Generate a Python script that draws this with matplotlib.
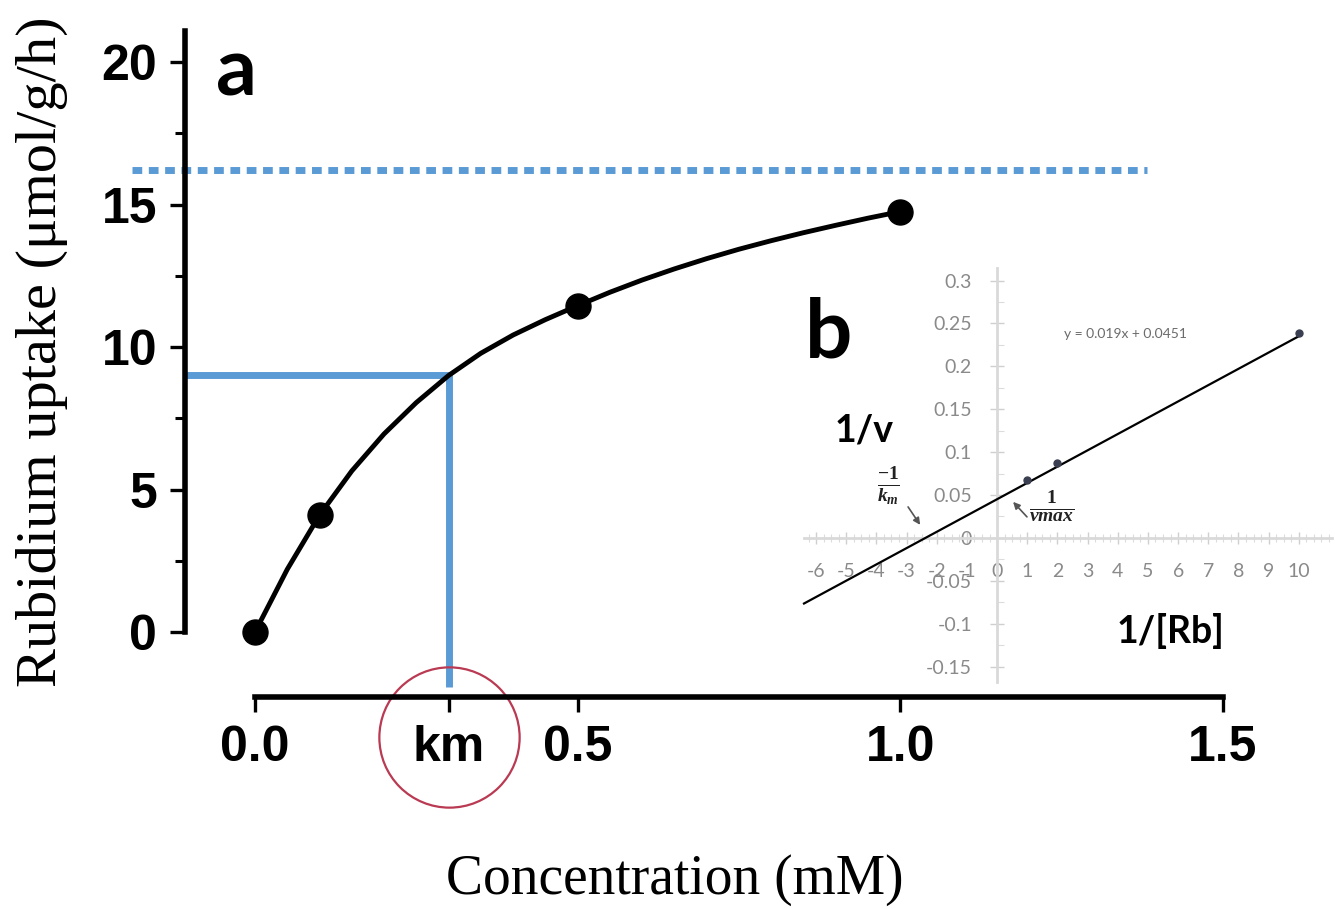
import matplotlib
matplotlib.use("Agg")
import matplotlib.pyplot as plt
from matplotlib.ticker import MultipleLocator

# panel a: rubidium uptake vs concentration
conc = [0.0, 0.1, 0.5, 1.0]
uptake = [0.0, 4.1, 11.45, 14.75]

# fitted saturation curve
curve_x = [0, 0.05, 0.1, 0.15, 0.2, 0.25, 0.3, 0.35, 0.4, 0.45, 0.5,
           0.55, 0.6, 0.65, 0.7, 0.75, 0.8, 0.85, 0.9, 0.95, 1.0]
curve_y = [0, 2.2, 4.1, 5.65, 6.95, 8.05, 9.0, 9.78, 10.42, 10.96, 11.45,
           11.92, 12.35, 12.74, 13.1, 13.43, 13.73, 14.01, 14.27, 14.52,
           14.75]

vmax_level = 16.2
km = 0.3
half_level = 9.02

x_ticks = [0.0, 0.3, 0.5, 1.0, 1.5]
x_ticklabels = ["0.0", "km", "0.5", "1.0", "1.5"]
y_ticks = [0, 5, 10, 15, 20]

# panel b: Lineweaver-Burk inset
inv_rb = [1, 2, 10]
inv_v = [0.0676, 0.0874, 0.239]
trend_x = [-6.4, 10]
trend_y = [-0.0765, 0.2351]
inset_xticks = list(range(-6, 11))
inset_xticklabels = [str(v) for v in inset_xticks]
inset_yticks = [-0.15, -0.1, -0.05, 0, 0.05, 0.1, 0.15, 0.2, 0.25, 0.3]
inset_yticklabels = ["-0.15", "-0.1", "-0.05", "0", "0.05", "0.1", "0.15",
                     "0.2", "0.25", "0.3"]
equation = "y = 0.019x + 0.0451"

plt.rcParams["axes.unicode_minus"] = False
plt.rcParams["mathtext.fontset"] = "custom"
plt.rcParams["mathtext.rm"] = "Liberation Serif:bold"
plt.rcParams["mathtext.it"] = "Liberation Serif:italic:bold"
plt.rcParams["mathtext.bf"] = "Liberation Serif:bold"

BLUE = "#5b9bd5"
W, H = 1335, 909

fig = plt.figure(figsize=(W / 100, H / 100), dpi=100)

# ---- main panel ----
ax = fig.add_axes([185 / W, 1 - 697 / H, 1070 / W, (697 - 27.8) / H])
ax.set_xlim(-0.1085, 1.55)
ax.set_ylim(-2.28, 21.2)
ax.patch.set_alpha(0)
for s in ("top", "right"):
    ax.spines[s].set_visible(False)
ax.spines["left"].set_bounds(0, 21.1)
ax.spines["bottom"].set_bounds(0, 1.5)
for s in ("left", "bottom"):
    ax.spines[s].set_linewidth(4)

ax.plot(curve_x, curve_y, color="black", lw=3.5, solid_joinstyle="round",
        zorder=3)
ax.plot(conc, uptake, "o", color="black", ms=18, clip_on=False, zorder=4)

# Vmax dotted line and km guide lines
ax.plot([-0.19, 1.383], [vmax_level, vmax_level], color=BLUE, lw=5,
        dashes=(1.4, 0.95), dash_capstyle="butt", clip_on=False)
ax.plot([-0.1085, km + 0.006], [half_level, half_level], color=BLUE, lw=5,
        solid_capstyle="butt")
ax.plot([km, km], [half_level + 0.09, -1.93], color=BLUE, lw=5,
        solid_capstyle="butt")
# red circle around km label
ax.plot([km], [-3.68], "o", ms=101, mfc="none", mec="#b93a52", mew=1.6,
        clip_on=False)

ax.set_xticks(x_ticks)
ax.set_xticklabels(x_ticklabels)
ax.set_yticks(y_ticks)
ax.yaxis.set_minor_locator(MultipleLocator(2.5))
ax.tick_params(axis="both", which="major", length=11, width=2.4,
               direction="out", labelsize=36, pad=9)
ax.tick_params(axis="y", which="minor", length=7, width=2.2)
for lbl in ax.get_xticklabels() + ax.get_yticklabels():
    lbl.set_fontfamily("Liberation Sans")
    lbl.set_fontweight("bold")

fig.text(42 / W, 1 - 352 / H, "Rubidium uptake (\u03bcmol/g/h)",
         rotation=90, ha="center", va="center", fontsize=42,
         family="Liberation Serif")
fig.text(675 / W, 1 - 880 / H, "Concentration (mM)", ha="center",
         va="center", fontsize=40, family="Liberation Serif")
fig.text(216 / W, 1 - 96 / H, "a", ha="left", va="baseline", fontsize=58,
         family="Lato", fontweight="bold")

# ---- inset panel ----
axi = fig.add_axes([804 / W, 1 - 682 / H, 528 / W, (682 - 267.7) / H])
axi.set_xlim(-6.4, 11.1)
axi.set_ylim(-0.168, 0.315)
axi.patch.set_alpha(0)
for s in ("top", "right"):
    axi.spines[s].set_visible(False)
axi.spines["left"].set_position(("data", 0))
axi.spines["bottom"].set_position(("data", 0))
for s in ("left", "bottom"):
    axi.spines[s].set_color("#d9d9d9")
    axi.spines[s].set_linewidth(2)

axi.set_xticks(inset_xticks)
axi.set_xticklabels(inset_xticklabels)
axi.set_yticks(inset_yticks)
axi.set_yticklabels(inset_yticklabels)
axi.xaxis.set_minor_locator(MultipleLocator(0.25))
axi.yaxis.set_minor_locator(MultipleLocator(0.025))
axi.tick_params(axis="x", which="major", direction="inout", length=8,
                width=1, color="#cfcfcf", labelcolor="#8a8a8a",
                labelsize=14, pad=14)
axi.tick_params(axis="y", which="major", direction="inout", length=10,
                width=1, color="#cfcfcf", labelcolor="#8a8a8a",
                labelsize=14, pad=13)
axi.tick_params(axis="x", which="minor", direction="inout", length=6,
                width=0.8, color="#dcdcdc")
axi.tick_params(axis="y", which="minor", direction="in", length=5,
                width=0.8, color="#dcdcdc")
for lbl in axi.get_xticklabels() + axi.get_yticklabels():
    lbl.set_fontfamily("Lato")

axi.plot(trend_x, trend_y, color="black", lw=1.6, clip_on=False, zorder=3)
axi.plot(inv_rb, inv_v, "o", ms=5, color="#3b3f52", clip_on=False,
         zorder=4)

axi.text(4.25, 0.238, equation, ha="center", va="center", fontsize=10,
         color="#6b6b6b", family="Lato")

# intercept annotations
axi.text(-3.61, 0.0594, r"$\frac{-1}{k_m}$", ha="center", va="center",
         fontsize=20, color="#222222")
axi.annotate("", xy=(-2.55, 0.0152), xytext=(-2.95, 0.0361),
             arrowprops=dict(arrowstyle="-|>", color="#555555", lw=1.2,
                             mutation_scale=10, shrinkA=0, shrinkB=0))
axi.text(1.82, 0.035, r"$\frac{1}{vmax}$", ha="center", va="center",
         fontsize=20, color="#222222")
axi.annotate("", xy=(0.53, 0.042), xytext=(0.99, 0.0245),
             arrowprops=dict(arrowstyle="-|>", color="#555555", lw=1.2,
                             mutation_scale=10, shrinkA=0, shrinkB=0))

fig.text(805 / W, 1 - 358 / H, "b", ha="left", va="baseline", fontsize=60,
         family="Lato", fontweight="bold")
fig.text(835 / W, 1 - 442 / H, "1/v", ha="left", va="baseline", fontsize=27,
         family="Lato", fontweight="bold")
fig.text(1117 / W, 1 - 643 / H, "1/[Rb]", ha="left", va="baseline",
         fontsize=27, family="Lato", fontweight="bold")

fig.savefig("out.png", dpi=100)
